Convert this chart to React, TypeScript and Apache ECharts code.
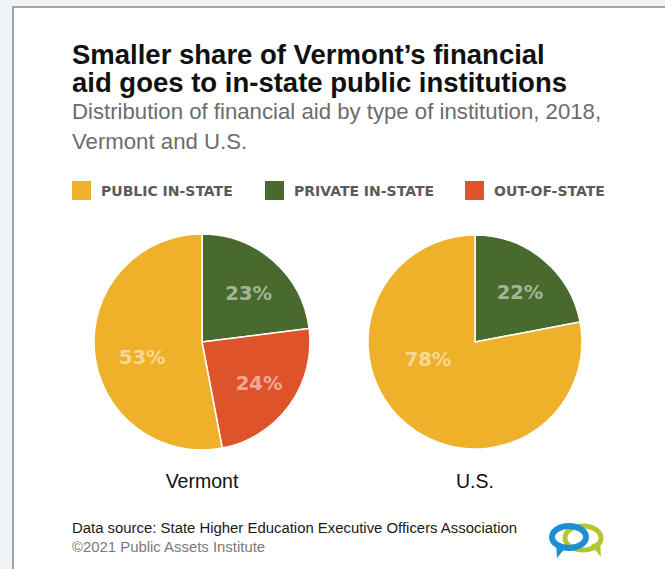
import React, { useEffect, useRef } from "react";
import * as echarts from "echarts";

// ---- data ----
const categories = ["PUBLIC IN-STATE", "PRIVATE IN-STATE", "OUT-OF-STATE"];
const categoryColors = ["#efb12a", "#486a2f", "#df532b"];

// slice order, clockwise from 12 o'clock
const vermontNames = ["PRIVATE IN-STATE", "OUT-OF-STATE", "PUBLIC IN-STATE"];
const vermontValues = [23, 24, 53];
const usNames = ["PRIVATE IN-STATE", "PUBLIC IN-STATE"];
const usValues = [22, 78];

const pieTitles = ["Vermont", "U.S."];

const titleText = "Smaller share of Vermont\u2019s financial\naid goes to in-state public institutions";
const subtitleText = "Distribution of financial aid by type of institution, 2018,\nVermont and U.S.";
const sourceLine = "Data source: State Higher Education Executive Officers Association";
const copyrightLine = "\u00a92021 Public Assets Institute";

export default function App() {
  const ref = useRef<HTMLDivElement>(null);

  useEffect(() => {
    if (!ref.current) return;
    const chart = echarts.init(ref.current, undefined, { renderer: "svg" });

    const colorOf = (n: string) => categoryColors[categories.indexOf(n)];
    const mkData = (names: string[], values: number[]) =>
      names.map((n, i) => ({ name: n, value: values[i], itemStyle: { color: colorOf(n) } }));

    // label nudges (pixels) per series / slice
    const nudges = [
      [[9, -6], [11, 8], [-3, 10]],
      [[9, -6], [-11, -26]],
    ];

    const pieBase = {
      type: "pie",
      radius: [0, 108],
      startAngle: 90,
      clockwise: true,
      silent: true,
      avoidLabelOverlap: false,
      itemStyle: { borderColor: "#ffffff", borderWidth: 1.5 },
      label: {
        show: true,
        position: "inside",
        formatter: "{c}%",
        fontFamily: "DejaVu Sans",
        fontWeight: "bold",
        fontSize: 19.5,
        color: "rgba(255,255,255,0.5)",
      },
      labelLine: { show: false },
      emphasis: { disabled: true },
      labelLayout: (p: any) => {
        const o = nudges[p.seriesIndex]?.[p.dataIndex] || [0, 0];
        return { dx: o[0], dy: o[1] };
      },
    };

    const legendLefts = [72, 265, 465];

    const option: any = {
      animation: false,
      backgroundColor: "#f1f2f3",
      title: {
        text: titleText,
        subtext: subtitleText,
        left: 72,
        top: 40,
        padding: 0,
        itemGap: 0,
        textStyle: {
          fontFamily: "Liberation Sans",
          fontWeight: "bold",
          fontSize: 27.5,
          lineHeight: 28,
          color: "#111111",
        },
        subtextStyle: {
          fontFamily: "Liberation Sans",
          fontSize: 22.2,
          lineHeight: 30,
          color: "#6c6c6c",
        },
      },
      legend: categories.map((name, i) => ({
        data: [name],
        left: legendLefts[i],
        top: 181,
        padding: 0,
        icon: "rect",
        itemWidth: 19,
        itemHeight: 19,
        itemGap: 0,
        selectedMode: false,
        itemStyle: { borderWidth: 0 },
        textStyle: {
          fontFamily: "DejaVu Sans",
          fontWeight: "bold",
          fontSize: 14,
          color: "#5a5a5a",
          padding: [0, 0, 0, 5],
        },
      })),
      graphic: [
        {
          type: "rect",
          z: -10,
          shape: { x: 13, y: 7, width: 700, height: 620 },
          style: { fill: "#ffffff", stroke: "#7b8c98", lineWidth: 1.5 },
        },
        {
          type: "text",
          x: 202,
          y: 481,
          style: {
            text: pieTitles[0],
            fill: "#111111",
            font: "19.5px 'Liberation Sans'",
            textAlign: "center",
            textVerticalAlign: "middle",
          },
        },
        {
          type: "text",
          x: 475,
          y: 481,
          style: {
            text: pieTitles[1],
            fill: "#111111",
            font: "19.5px 'Liberation Sans'",
            textAlign: "center",
            textVerticalAlign: "middle",
          },
        },
        {
          type: "text",
          x: 72,
          y: 528,
          style: {
            text: sourceLine,
            fill: "#1a1a1a",
            font: "14.9px 'Liberation Sans'",
            textAlign: "left",
            textVerticalAlign: "middle",
          },
        },
        {
          type: "text",
          x: 72,
          y: 547,
          style: {
            text: copyrightLine,
            fill: "#7a7a7a",
            font: "14.9px 'Liberation Sans'",
            textAlign: "left",
            textVerticalAlign: "middle",
          },
        },
        // logo: two overlapping speech-bubble rings
        {
          type: "polygon",
          shape: { points: [[591, 545], [600, 541], [601, 557]] },
          style: { fill: "#b4c62e" },
        },
        {
          type: "ellipse",
          shape: { cx: 583, cy: 538, rx: 18, ry: 12 },
          style: { fill: "none", stroke: "#b4c62e", lineWidth: 5 },
        },
        {
          type: "polygon",
          shape: { points: [[556, 542], [566, 547], [557, 558]] },
          style: { fill: "#1b8fd2" },
        },
        {
          type: "ellipse",
          shape: { cx: 569, cy: 537, rx: 17, ry: 11 },
          style: { fill: "none", stroke: "#1b8fd2", lineWidth: 6 },
        },
      ],
      series: [
        { ...pieBase, name: pieTitles[0], center: [202, 342], data: mkData(vermontNames, vermontValues) },
        { ...pieBase, name: pieTitles[1], center: [475, 342], radius: [0, 107], data: mkData(usNames, usValues) },
      ],
    };

    chart.setOption(option);
    return () => chart.dispose();
  }, []);

  return (
    <div
      ref={ref}
      style={{ position: "absolute", left: 0, top: 0, width: 665, height: 569 }}
    />
  );
}
